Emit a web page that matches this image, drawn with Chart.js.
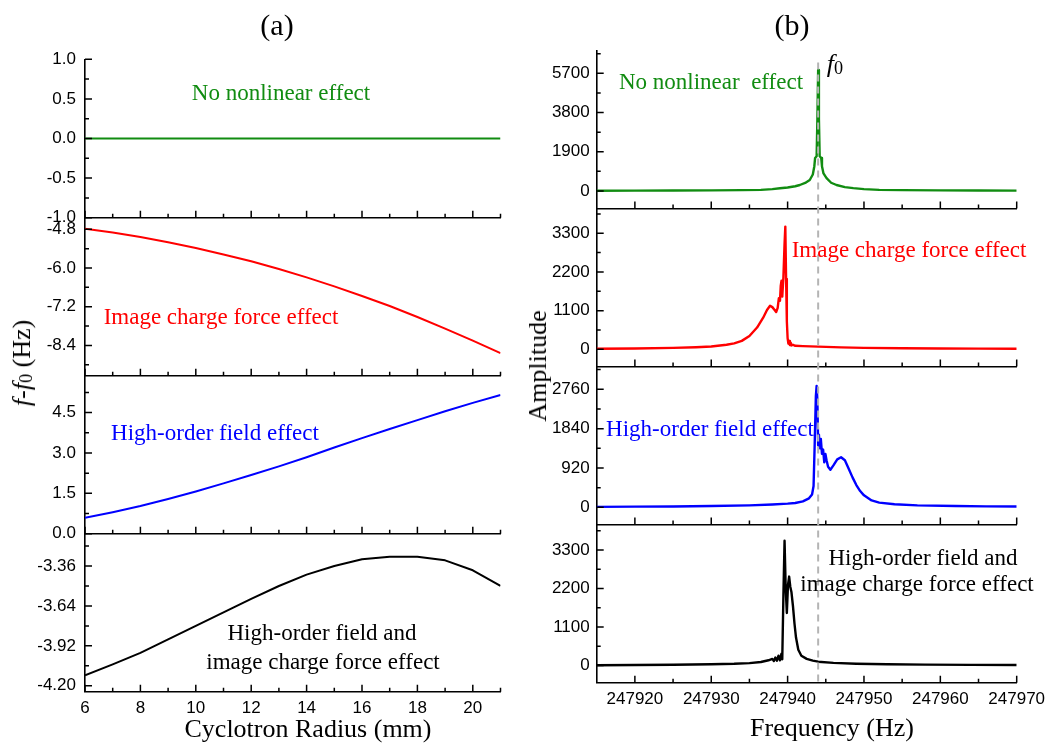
<!DOCTYPE html>
<html><head><meta charset="utf-8">
<script src="https://cdn.jsdelivr.net/npm/chart.js@4.4.1/dist/chart.umd.min.js"></script>
<style>
html,body{margin:0;padding:0;background:#fff;}
#wrap{position:relative;width:1046px;height:744px;overflow:hidden;background:#fff;}
canvas{position:absolute;left:0;top:0;}
.t{position:absolute;white-space:pre;font-family:"Liberation Serif","Times New Roman",serif;line-height:1;}
</style></head><body><div id="wrap"></div>
<script>
// ---------- (a) frequency shift vs cyclotron radius ----------
const radius = [6,7,8,9,10,11,12,13,14,15,16,17,18,19,20,21];
const shiftNone = [0,0,0,0,0,0,0,0,0,0,0,0,0,0,0,0];
const shiftImage = [-4.78,-4.90,-5.04,-5.20,-5.38,-5.58,-5.79,-6.03,-6.29,-6.57,-6.87,-7.18,-7.52,-7.88,-8.25,-8.64];
const shiftHighOrder = [0.59,0.80,1.03,1.29,1.57,1.87,2.18,2.50,2.84,3.20,3.55,3.89,4.22,4.55,4.86,5.15];
const shiftCombined = [-4.127,-4.05,-3.97,-3.875,-3.78,-3.685,-3.59,-3.50,-3.42,-3.36,-3.313,-3.294,-3.294,-3.32,-3.39,-3.50];

// ---------- (b) amplitude spectra ----------
const freqNone = [247915,247920,247925,247930,247934,247936.5,247938,247939,247940,247941,247941.6,247942.3,247942.9,247943.3,247943.5,247943.6,247943.8,247943.9,247944,247944.1,247944.2,247944.4,247944.5,247944.7,247945.1,247945.7,247946.4,247947.5,247948.6,247950,247952,247955,247960,247965,247970];
const ampNone  = [15,18,22,30,42,55,90,130,170,230,290,390,530,800,1200,1600,1680,3500,5860,3500,1680,1600,1200,850,620,400,290,190,140,90,55,40,28,22,18];

const freqImage = [247915,247920,247925,247928,247930,247932,247933,247934,247935,247936,247936.8,247937.3,247937.7,247938,247938.3,247938.5,247938.7,247938.85,247939.0,247939.1,247939.2,247939.3,247939.45,247939.6,247939.7,247939.8,247939.9,247940.0,247940.1,247940.2,247940.3,247940.4,247940.5,247940.7,247941,247942,247944,247947,247950,247955,247960,247965,247970];
const ampImage  = [15,25,40,60,80,130,170,240,380,620,900,1120,1240,1200,1120,1060,1180,1450,1380,1800,1950,1500,2050,3000,3490,2000,800,320,160,240,120,190,110,130,100,90,75,55,40,30,22,18,15];

const freqHighOrder = [247915,247920,247925,247930,247935,247938,247940,247941,247942,247942.8,247943.2,247943.4,247943.55,247943.7,247943.8,247943.9,247944.0,247944.1,247944.2,247944.35,247944.5,247944.65,247944.8,247944.95,247945.1,247945.3,247945.6,247946,247946.5,247947.0,247947.5,247948,247948.5,247949,247949.5,247950,247951,247952,247954,247957,247962,247966,247970];
const ampHighOrder  = [10,15,20,30,45,65,85,100,140,210,300,500,1500,2600,2840,2500,1450,1700,1380,1600,1250,1350,1050,1250,1100,950,880,980,1120,1170,1100,900,700,520,380,280,160,110,70,45,30,22,18];

const freqCombined = [247915,247920,247925,247930,247933,247935,247936.5,247937.5,247938.0,247938.2,247938.4,247938.6,247938.8,247939.0,247939.2,247939.3,247939.45,247939.6,247939.75,247939.9,247940.05,247940.2,247940.35,247940.5,247940.7,247940.9,247941.1,247941.4,247941.8,247942.5,247943.3,247944,247946,247949,247953,247958,247964,247970];
const ampCombined  = [10,15,22,35,50,70,100,150,190,130,230,140,280,150,340,180,2000,3565,2200,1500,2300,2540,2250,2100,1700,1200,800,450,280,190,140,110,75,50,35,25,18,15];

const f0Freq = 247944;

// ---------- ticks ----------
const radiusTicks = [6,8,10,12,14,16,18,20];
const radiusLabels = ['6','8','10','12','14','16','18','20'];
const radiusMinor = [7,9,11,13,15,17,19,21];
const freqTicks = [247920,247930,247940,247950,247960,247970];
const freqLabels = ['247920','247930','247940','247950','247960','247970'];
const freqMinor = [247925,247935,247945,247955,247965];

const ticksA1 = [-1,-0.5,0,0.5,1];      const labelsA1 = ['-1.0','-0.5','0.0','0.5','1.0']; const minorA1 = [-0.75,-0.25,0.25,0.75];
const ticksA2 = [-8.4,-7.2,-6.0,-4.8];  const labelsA2 = ['-8.4','-7.2','-6.0','-4.8'];    const minorA2 = [-9.0,-7.8,-6.6,-5.4];
const ticksA3 = [0,1.5,3.0,4.5];        const labelsA3 = ['0.0','1.5','3.0','4.5'];        const minorA3 = [0.75,2.25,3.75,5.25];
const ticksA4 = [-4.20,-3.92,-3.64,-3.36]; const labelsA4 = ['-4.20','-3.92','-3.64','-3.36']; const minorA4 = [-4.06,-3.78,-3.50,-3.22];

const ticksB1 = [0,1900,3800,5700]; const labelsB1 = ['0','1900','3800','5700']; const minorB1 = [950,2850,4750,6650];
const ticksB2 = [0,1100,2200,3300]; const labelsB2 = ['0','1100','2200','3300']; const minorB2 = [550,1650,2750,3850];
const ticksB3 = [0,920,1840,2760];  const labelsB3 = ['0','920','1840','2760'];   const minorB3 = [460,1380,2300,3220];
const ticksB4 = [0,1100,2200,3300]; const labelsB4 = ['0','1100','2200','3300']; const minorB4 = [550,1650,2750,3850];

// ---------- drawing ----------
Chart.defaults.font.family = '"Liberation Sans", Arial, sans-serif';
const wrap = document.getElementById('wrap');
const GREEN = '#118c11', RED = '#ff0000', BLUE = '#0000ff', BLACK = '#000000';

function tickPlugin(o){
  return {id:'inticks', afterDraw(chart){
    const ctx = chart.ctx, a = chart.chartArea, xs = chart.scales.x, ys = chart.scales.y;
    ctx.save(); ctx.strokeStyle = '#000'; ctx.lineWidth = 1.5; ctx.beginPath();
    o.xTicks.forEach(v=>{const p=xs.getPixelForValue(v); ctx.moveTo(p,a.bottom); ctx.lineTo(p,a.bottom-7);});
    o.xMinor.forEach(v=>{const p=xs.getPixelForValue(v); ctx.moveTo(p,a.bottom); ctx.lineTo(p,a.bottom-4);});
    o.yTicks.forEach(v=>{const p=ys.getPixelForValue(v); ctx.moveTo(a.left,p); ctx.lineTo(a.left+7,p);});
    o.yMinor.forEach(v=>{const p=ys.getPixelForValue(v); ctx.moveTo(a.left,p); ctx.lineTo(a.left+4,p);});
    ctx.stroke(); ctx.restore();
  }};
}

function panel(o){
  const c = document.createElement('canvas');
  c.width = 1046; c.height = 744;
  wrap.appendChild(c);
  const W = 70, H = o.xLabels ? 40 : 0;
  const plugins = [tickPlugin(o)].concat(o.extra || []);
  return new Chart(c, {
    type: 'line',
    data: {datasets: [{data: o.xs.map((x,i)=>({x:x, y:o.ys[i]})), borderColor:o.color, borderWidth:o.lw||2,
      pointRadius:0, tension:0, fill:false, borderJoinStyle:'round'}]},
    options: {
      responsive:false, animation:false, devicePixelRatio:1, events:[],
      layout:{padding:{left:o.L-W, right:1046-o.R, top:o.T, bottom:744-o.B-H}},
      plugins:{legend:{display:false}, tooltip:{enabled:false}, title:{display:false}},
      scales:{
        x:{type:'linear', min:o.xMin, max:o.xMax,
          afterBuildTicks:s=>{s.ticks=o.xTicks.map(v=>({value:v}));},
          afterFit:s=>{s.height=H; s.paddingLeft=0; s.paddingRight=0;},
          grid:{display:false, drawTicks:false},
          border:{display:true, color:'#000', width:1.6},
          ticks:{display:!!o.xLabels, autoSkip:false, maxRotation:0, minRotation:0, padding:6, color:'#000',
            font:{size:17}, callback:(v)=>o.xLabels ? o.xLabels[o.xTicks.indexOf(v)] : ''}
        },
        y:{type:'linear', min:o.yMin, max:o.yMax,
          afterBuildTicks:s=>{s.ticks=o.yTicks.map(v=>({value:v}));},
          afterFit:s=>{s.width=W; s.paddingTop=0; s.paddingBottom=0;},
          grid:{display:false, drawTicks:false},
          border:{display:true, color:'#000', width:1.6},
          ticks:{autoSkip:false, padding:o.yPad, color:'#000', font:{size:17},
            callback:(v)=>o.yLabels[o.yTicks.indexOf(v)]}
        }
      }
    },
    plugins: plugins
  });
}

const LA = {L:85, R:500.5, xMin:6, xMax:21, xTicks:radiusTicks, xMinor:radiusMinor, yPad:9, xs:radius, lw:2};
const LB = {L:596.7, R:1016.7, xMin:247915, xMax:247970, xTicks:freqTicks, xMinor:freqMinor, yPad:7, lw:2.4};

panel(Object.assign({}, LA, {T:59.3, B:217.7, yMin:-1, yMax:1, yTicks:ticksA1, yLabels:labelsA1, yMinor:minorA1, ys:shiftNone, color:GREEN}));
panel(Object.assign({}, LA, {T:217.7, B:375.7, yMin:-9.34, yMax:-4.44, yTicks:ticksA2, yLabels:labelsA2, yMinor:minorA2, ys:shiftImage, color:RED}));
panel(Object.assign({}, LA, {T:375.7, B:533.7, yMin:0, yMax:5.87, yTicks:ticksA3, yLabels:labelsA3, yMinor:minorA3, ys:shiftHighOrder, color:BLUE}));
panel(Object.assign({}, LA, {T:533.7, B:691.7, yMin:-4.242, yMax:-3.133, yTicks:ticksA4, yLabels:labelsA4, yMinor:minorA4, ys:shiftCombined, color:BLACK, xLabels:radiusLabels}));

const b1 = panel(Object.assign({}, LB, {T:50.5, B:208.5, yMin:-848, yMax:6804, yTicks:ticksB1, yLabels:labelsB1, yMinor:minorB1, xs:freqNone, ys:ampNone, color:GREEN}));
panel(Object.assign({}, LB, {T:208.5, B:366.5, yMin:-489, yMax:4005, yTicks:ticksB2, yLabels:labelsB2, yMinor:minorB2, xs:freqImage, ys:ampImage, color:RED}));
panel(Object.assign({}, LB, {T:366.5, B:524.5, yMin:-402, yMax:3293, yTicks:ticksB3, yLabels:labelsB3, yMinor:minorB3, xs:freqHighOrder, ys:ampHighOrder, color:BLUE}));

const f0Line = {id:'f0line', afterDraw(chart){
  const ctx = chart.ctx, p = chart.scales.x.getPixelForValue(f0Freq);
  const top = b1.chartArea.top + 12, bottom = chart.chartArea.bottom + 3;
  ctx.save(); ctx.strokeStyle = '#b4b4b4'; ctx.lineWidth = 2; ctx.setLineDash([7,5]);
  ctx.beginPath(); ctx.moveTo(p, top); ctx.lineTo(p, bottom); ctx.stroke(); ctx.restore();
}};
panel(Object.assign({}, LB, {T:524.5, B:682.7, yMin:-490, yMax:4027, yTicks:ticksB4, yLabels:labelsB4, yMinor:minorB4, xs:freqCombined, ys:ampCombined, color:BLACK, xLabels:freqLabels, extra:[f0Line]}));

// ---------- text ----------
function txt(html, x, base, size, color, align){
  const d = document.createElement('div'); d.className = 't';
  d.innerHTML = html; d.style.fontSize = size+'px'; d.style.color = color;
  d.style.top = (base - 0.8375*size)+'px'; d.style.left = x+'px';
  if (align !== 'left') d.style.transform = 'translateX(-50%)';
  wrap.appendChild(d);
}
function vtxt(html, bx, cy, size){
  const d = document.createElement('div'); d.className = 't';
  d.innerHTML = html; d.style.fontSize = size+'px'; d.style.color = '#000';
  d.style.left = (bx - 0.3375*size)+'px'; d.style.top = cy+'px';
  d.style.transform = 'translate(-50%,-50%) rotate(-90deg)';
  wrap.appendChild(d);
}
const SUB0 = '<span style="font-size:0.7em;position:relative;top:0.12em">0</span>';

txt('(a)', 277, 35, 30, '#000');
txt('(b)', 792, 35, 30, '#000');

txt('No nonlinear effect', 281, 100, 23, GREEN);
txt('Image charge force effect', 221, 324, 23, RED);
txt('High-order field effect', 215, 440, 23, BLUE);
txt('High-order field and', 322, 640.7, 23, '#000');
txt('image charge force effect', 323, 669, 23, '#000');

txt('No nonlinear  effect', 711, 89.3, 23, GREEN);
txt('<i>f</i>'+SUB0, 826.7, 72.8, 26, '#000', 'left');
txt('Image charge force effect', 909, 257.3, 23, RED);
txt('High-order field effect', 710, 436.7, 23, BLUE);
txt('High-order field and', 923, 565, 23, '#000');
txt('image charge force effect', 917, 591.7, 23, '#000');

txt('Cyclotron Radius (mm)', 308, 738, 26, '#000');
txt('Frequency (Hz)', 832, 736.7, 26, '#000');
vtxt('<i>f</i>-<i>f</i>'+SUB0+' (Hz)', 31, 363, 26);
vtxt('Amplitude', 547, 365.5, 26);
</script></body></html>
